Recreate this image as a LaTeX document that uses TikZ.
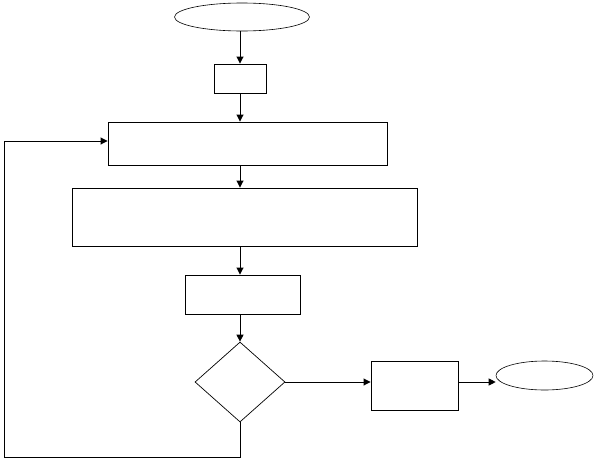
\documentclass[tikz,border=0pt]{standalone}
\usetikzlibrary{shapes.geometric,arrows.meta}
\begin{document}
\begin{tikzpicture}[x=1pt,y=-1pt,
  every path/.style={line width=0.9pt},
  box/.style={draw,rectangle,inner sep=0pt,line width=0.9pt},
  oval/.style={draw,ellipse,inner sep=0pt,line width=0.6pt},
  dec/.style={draw,diamond,inner sep=0pt,line width=0.7pt},
  arr/.style={-{Triangle[length=7pt,width=7pt]},line width=0.9pt}]
\useasboundingbox (0,0) rectangle (594,458);
\node[oval,minimum width=135pt,minimum height=28pt] (start) at (242,17) {};
\node[box,minimum width=52pt,minimum height=29pt] (b1) at (240,78.5) {};
\node[box,minimum width=279pt,minimum height=43pt] (b2) at (247.5,143.5) {};
\node[box,minimum width=345pt,minimum height=58pt] (b3) at (244.5,217) {};
\node[box,minimum width=115pt,minimum height=39pt] (b4) at (242.5,294.5) {};
\node[dec,minimum width=90pt,minimum height=80pt] (d) at (240,382) {};
\node[box,minimum width=87pt,minimum height=49pt] (b5) at (414.5,385.5) {};
\node[oval,minimum width=97pt,minimum height=29pt] (end) at (544.5,375.5) {};
\coordinate (c1) at (240,457);
\coordinate (c2) at (4,457);
\coordinate (c3) at (4,141);
\draw[arr] (start.south -| b1.north) -- (b1.north);
\draw[arr] (b1.south) -- (b1.south |- b2.north);
\draw[arr] (b1.south |- b2.south) -- (b1.south |- b3.north);
\draw[arr] (b1.south |- b3.south) -- (b1.south |- b4.north);
\draw[arr] (b1.south |- b4.south) -- (d.north);
\draw[arr] (d.east) -- (d.east -| b5.west);
\draw[arr] (d.east -| b5.east) -- (d.east -| end.west);
\draw[arr] (d.south) -- (c1) -- (c2) -- (c3) -- (c3 -| b2.west);
\end{tikzpicture}
\end{document}
